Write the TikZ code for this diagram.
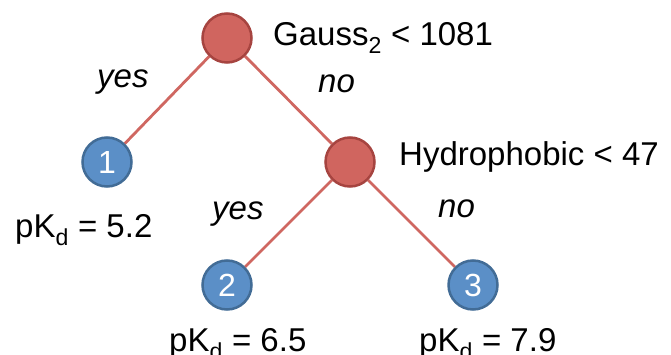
\documentclass[tikz,border=0pt]{standalone}
\usepackage{fontspec}
\setmainfont{Liberation Sans}
\definecolor{splitfill}{RGB}{208,101,95}
\definecolor{splitedge}{RGB}{166,68,64}
\definecolor{leaffill}{RGB}{91,143,199}
\definecolor{leafedge}{RGB}{66,108,150}
\definecolor{branch}{RGB}{207,103,97}

\begin{document}
\begin{tikzpicture}[x=1pt,y=-1pt,
    split/.style={circle,draw=splitedge,fill=splitfill,line width=2.5pt,minimum size=49pt,inner sep=0pt},
    leaf/.style={circle,draw=leafedge,fill=leaffill,line width=2.5pt,minimum size=49pt,inner sep=0pt,
      text=white,font=\fontsize{32}{38}\selectfont},
    lbl/.style={anchor=base west,inner sep=0pt,font=\fontsize{33}{40}\selectfont},
    ans/.style={lbl,font=\fontsize{33}{40}\selectfont\itshape},
    branchline/.style={branch,line width=2.8pt}]
  \useasboundingbox (0,0) rectangle (671,355);
  \node[split] (root)  at (227,38)  {};
  \node[split] (hydro) at (350,162) {};
  \node[leaf]  (one)   at (107,162) {1};
  \node[leaf]  (two)   at (227,285) {2};
  \node[leaf]  (three) at (473,285) {3};
  \draw[branchline] (root) -- (one);
  \draw[branchline] (root) -- (hydro);
  \draw[branchline] (hydro) -- (two);
  \draw[branchline] (hydro) -- (three);
  \node[lbl] (rootrule)  at (273,46)  {Gauss\textsubscript{2} < 1081};
  \node[lbl] (hydrorule) at (399,166) {Hydrophobic < 47};
  \node[ans] (yesa) at (97,88)   {yes};
  \node[ans] (noa)  at (318,93)  {no};
  \node[ans] (yesb) at (212,220) {yes};
  \node[ans] (nob)  at (438,218) {no};
  \node[lbl] (pkone)   at (15,237)  {pK\textsubscript{d} = 5.2};
  \node[lbl] (pktwo)   at (169,351) {pK\textsubscript{d} = 6.5};
  \node[lbl] (pkthree) at (419,351) {pK\textsubscript{d} = 7.9};
\end{tikzpicture}
\end{document}
